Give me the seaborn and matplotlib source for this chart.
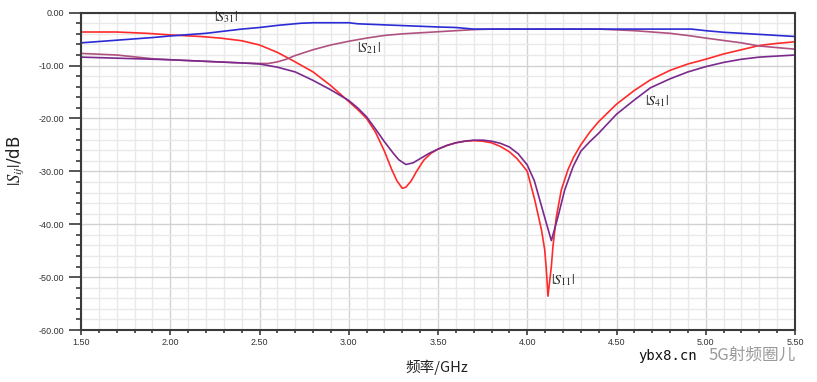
import numpy as np
import pandas as pd
import matplotlib
matplotlib.use("Agg")
import matplotlib.pyplot as plt
from matplotlib.ticker import MultipleLocator, FormatStrFormatter
import seaborn as sns

# ---------------- data ----------------
s11_f = [1.50, 1.70, 1.87, 2.00, 2.17, 2.28, 2.40, 2.50, 2.60, 2.70, 2.80, 2.90, 3.00,
         3.05, 3.10, 3.15, 3.20, 3.24, 3.27, 3.30, 3.32, 3.35, 3.38, 3.42, 3.46, 3.50,
         3.55, 3.60, 3.65, 3.70, 3.75, 3.80, 3.85, 3.90, 3.94, 3.97, 4.00, 4.042, 4.08,
         4.098, 4.107, 4.116, 4.135, 4.144, 4.163, 4.191, 4.228, 4.26, 4.30, 4.35,
         4.40, 4.50, 4.60, 4.69, 4.80, 4.90, 5.00, 5.10, 5.20, 5.30, 5.40, 5.50]
s11_v = [-3.65, -3.65, -3.9, -4.2, -4.5, -4.8, -5.3, -6.1, -7.5, -9.3, -11.2, -13.8, -16.8,
         -18.3, -20.0, -22.6, -26.2, -29.6, -31.8, -33.2, -33.0, -31.8, -30.0, -27.9, -26.6, -25.8,
         -25.1, -24.6, -24.3, -24.2, -24.3, -24.6, -25.3, -26.3, -27.5, -28.7, -30.0, -35.4, -41.1,
         -44.9, -48.6, -53.6, -48.0, -44.2, -38.6, -33.5, -29.7, -27.3, -25.0, -22.6,
         -20.6, -17.3, -14.7, -12.7, -10.9, -9.7, -8.8, -7.8, -7.0, -6.2, -5.8, -5.5]

s21_f = [1.50, 1.70, 1.90, 2.00, 2.20, 2.40, 2.50, 2.55, 2.60, 2.65, 2.70, 2.80, 2.90,
         3.00, 3.10, 3.20, 3.30, 3.40, 3.50, 3.60, 3.70, 3.80, 4.40, 4.60, 4.80, 4.92,
         5.00, 5.20, 5.30, 5.40, 5.50]
s21_v = [-7.7, -8.0, -8.7, -8.9, -9.2, -9.5, -9.6, -9.6, -9.3, -8.8, -8.1, -7.0, -6.1,
         -5.4, -4.8, -4.3, -4.0, -3.8, -3.6, -3.4, -3.2, -3.1, -3.1, -3.4, -3.9, -4.4,
         -4.8, -5.7, -6.3, -6.6, -6.9]

s31_f = [1.50, 1.70, 1.90, 2.00, 2.20, 2.40, 2.50, 2.60, 2.73, 2.80, 3.00, 3.05, 3.20,
         3.35, 3.50, 3.60, 3.70, 4.00, 4.50, 4.92, 5.00, 5.10, 5.20, 5.30, 5.40, 5.50]
s31_v = [-5.7, -5.2, -4.7, -4.4, -3.9, -3.1, -2.8, -2.4, -2.0, -1.9, -1.9, -2.1, -2.3,
         -2.5, -2.7, -2.8, -3.1, -3.1, -3.1, -3.1, -3.4, -3.7, -3.9, -4.1, -4.3, -4.5]

s41_f = [1.50, 1.70, 1.90, 2.00, 2.20, 2.40, 2.50, 2.60, 2.70, 2.80, 2.90, 3.00, 3.05,
         3.10, 3.15, 3.20, 3.25, 3.28, 3.32, 3.36, 3.40, 3.45, 3.50, 3.55, 3.60, 3.65,
         3.70, 3.75, 3.80, 3.85, 3.90, 3.95, 4.00, 4.04, 4.07, 4.107, 4.135, 4.172,
         4.21, 4.257, 4.30, 4.35, 4.40, 4.50, 4.60, 4.69, 4.80, 4.90, 5.00, 5.10, 5.20,
         5.30, 5.40, 5.50]
s41_v = [-8.4, -8.6, -8.8, -8.9, -9.2, -9.5, -9.7, -10.3, -11.2, -12.8, -14.6, -16.6, -18.0,
         -19.7, -22.0, -24.4, -26.6, -27.8, -28.7, -28.4, -27.6, -26.6, -25.8, -25.1, -24.6, -24.3,
         -24.1, -24.1, -24.3, -24.7, -25.4, -26.7, -28.8, -31.8, -35.4, -39.8, -43.1, -38.6,
         -33.5, -29.1, -26.2, -24.4, -22.8, -19.2, -16.5, -14.2, -12.5, -11.2, -10.2, -9.4, -8.8,
         -8.4, -8.2, -8.0]

series_names = ["S11", "S21", "S31", "S41"]
series_labels = [r"$|S_{11}|$", r"$|S_{21}|$", r"$|S_{31}|$", r"$|S_{41}|$"]
label_pos = [(4.20, -50.5), (3.113, -6.67), (2.311, -0.85), (4.726, -16.69)]
colors = {"S11": "#ff2a2a", "S21": "#b0527f", "S31": "#2b2bd6", "S41": "#7a2a8c"}

x_ticks = [1.5, 2.0, 2.5, 3.0, 3.5, 4.0, 4.5, 5.0, 5.5]
y_ticks = [0, -10, -20, -30, -40, -50, -60]

# ---------------- build long table ----------------
frames = []
for name, f, v in [("S11", s11_f, s11_v), ("S21", s21_f, s21_v),
                   ("S31", s31_f, s31_v), ("S41", s41_f, s41_v)]:
    frames.append(pd.DataFrame({"freq": f, "db": v, "series": name}))
df = pd.concat(frames, ignore_index=True)

# ---------------- plot ----------------
sns.set_style("white")
plt.rcParams["mathtext.fontset"] = "stix"

fig = plt.figure(figsize=(8.17, 3.82), dpi=100)
ax = fig.add_axes([81 / 817, 1 - 330 / 382, (795 - 81) / 817, (330 - 12.7) / 382])

ax.set_xlim(1.5, 5.5)
ax.set_ylim(-60, 0)
ax.xaxis.set_major_locator(MultipleLocator(0.5))
ax.xaxis.set_minor_locator(MultipleLocator(0.1))
ax.yaxis.set_major_locator(MultipleLocator(10))
ax.yaxis.set_minor_locator(MultipleLocator(2))
ax.grid(which="major", color="#d2d2d2", linewidth=1.0)
ax.grid(which="minor", color="#e9e9e9", linewidth=1.0)
ax.set_axisbelow(True)

sns.lineplot(data=df, x="freq", y="db", hue="series", palette=colors,
             estimator=None, sort=False, linewidth=1.2, legend=False, ax=ax)

ax.set_xlim(1.5, 5.5)
ax.set_ylim(-60, 0)
ax.set_xticks(x_ticks)
ax.set_yticks(y_ticks)
ax.xaxis.set_major_formatter(FormatStrFormatter("%.2f"))
ax.yaxis.set_major_formatter(FormatStrFormatter("%.2f"))

for sp in ax.spines.values():
    sp.set_color("#3a3a3a")
    sp.set_linewidth(1.5)

ax.tick_params(axis="y", which="major", direction="out", length=8.5, width=1.2,
               color="#3a3a3a", labelsize=6.5, labelcolor="#333333", pad=3.5, left=True)
ax.tick_params(axis="y", which="minor", direction="out", length=3.8, width=1.2,
               color="#3a3a3a", left=True)
ax.tick_params(axis="x", which="major", direction="out", length=3.5, width=1.2,
               color="#3a3a3a", labelsize=6.5, labelcolor="#333333", pad=2, bottom=True)
ax.tick_params(axis="x", which="minor", direction="out", length=2, width=1.2,
               color="#3a3a3a", bottom=True)
for lbl in ax.get_xticklabels() + ax.get_yticklabels():
    lbl.set_family(["Liberation Sans", "DejaVu Sans"])

ax.set_xlabel("")
ax.set_ylabel("")

for lab, (px, py) in zip(series_labels, label_pos):
    ax.text(px, py, lab, fontsize=10, ha="center", va="center", color="#222222")

fig.text(15 / 817, 1 - 161 / 382, r"$|S_{ij}|$/dB", rotation=90, fontsize=12,
         ha="center", va="center", color="#222222")
fig.text(437 / 817, 1 - 367 / 382, "频率/GHz", fontsize=10.5, ha="center", va="center",
         family=["Noto Sans CJK SC", "DejaVu Sans"], color="#222222")

# watermark
fig.text(752 / 817, 1 - 355 / 382, "5G射频圈儿", fontsize=12, ha="center", va="center",
         family=["Noto Sans CJK SC", "DejaVu Sans"], color="#9a9a9a")
fig.text(668 / 817, 1 - 356 / 382, "ybx8.cn", fontsize=10, ha="center", va="center",
         family=["DejaVu Sans Mono"], color="#111111")

fig.savefig("out.png", dpi=100)
